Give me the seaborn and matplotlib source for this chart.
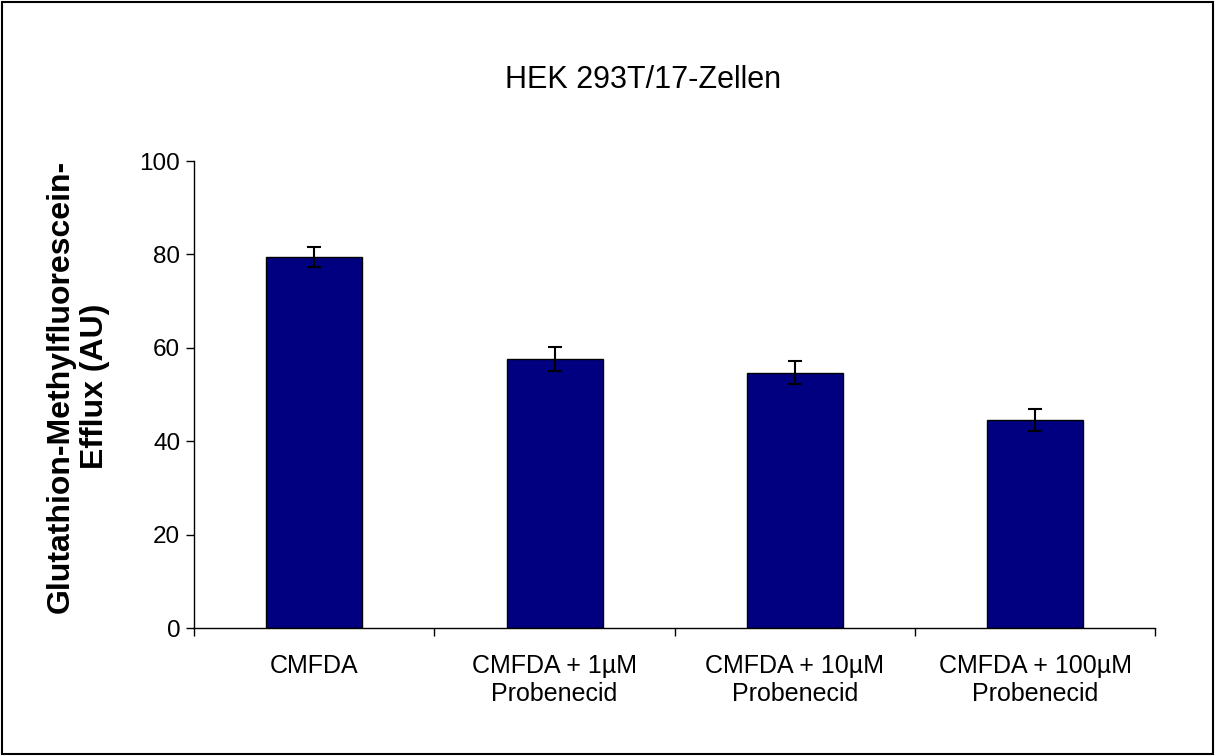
import matplotlib
matplotlib.use("Agg")
import matplotlib.pyplot as plt
import seaborn as sns
import pandas as pd
from matplotlib.patches import Rectangle

categories = ["CMFDA", "CMFDA + 1µM\nProbenecid", "CMFDA + 10µM\nProbenecid", "CMFDA + 100µM\nProbenecid"]
values = [79.4, 57.6, 54.7, 44.6]
errors = [2.1, 2.5, 2.5, 2.4]
yticks = [0, 20, 40, 60, 80, 100]

sns.set_style("white")
plt.rcParams['font.family'] = ['Liberation Sans', 'DejaVu Sans']
plt.rcParams['text.color'] = 'black'
plt.rcParams['axes.labelcolor'] = 'black'
plt.rcParams['xtick.color'] = 'black'
plt.rcParams['ytick.color'] = 'black'

fig = plt.figure(figsize=(12.15, 7.56), dpi=100)
ax = fig.add_axes([0.1597, 0.1693, 0.951 - 0.1597, 0.787 - 0.1693])

df = pd.DataFrame({"cat": categories, "val": values})
sns.barplot(data=df, x="cat", y="val", color="#000080", edgecolor="black",
            linewidth=1.0, width=0.4, saturation=1, ax=ax)
ax.errorbar(range(len(categories)), values, yerr=errors, fmt="none",
            ecolor="black", elinewidth=1.5, capsize=5, capthick=1.5)

ax.set_ylim(0, 100)
ax.set_xlim(-0.5, 3.5)
ax.set_yticks(yticks)
ax.set_yticklabels([str(t) for t in yticks], fontsize=17.5)
ax.set_xticks(range(len(categories)))
ax.set_xticklabels(categories, fontsize=18)
ax.set_xticks([-0.5, 0.5, 1.5, 2.5, 3.5], minor=True)
ax.tick_params(axis="x", which="major", length=0, pad=19)
ax.tick_params(axis="x", which="minor", length=6, width=1, direction="out", color="black", bottom=True)
ax.tick_params(axis="y", which="major", length=6, width=1, direction="out", color="black", left=True, pad=4)
ax.set_xlabel("")
ax.set_ylabel("Glutathion-Methylfluorescein-\nEfflux (AU)", fontsize=23, fontweight="bold",
              color="black")
ax.yaxis.set_label_coords(-0.087, 0.518)
for s in ["top", "right"]:
    ax.spines[s].set_visible(False)
for s in ["left", "bottom"]:
    ax.spines[s].set_color("black")
    ax.spines[s].set_linewidth(1)

fig.text(0.529, 0.894, "HEK 293T/17-Zellen", ha="center", va="center", fontsize=22, color="black")
fig.patches.append(Rectangle((0.002, 0.002), 0.996, 0.996, transform=fig.transFigure,
                             fill=False, edgecolor="black", linewidth=1.5))

fig.savefig("out.png", dpi=100)
